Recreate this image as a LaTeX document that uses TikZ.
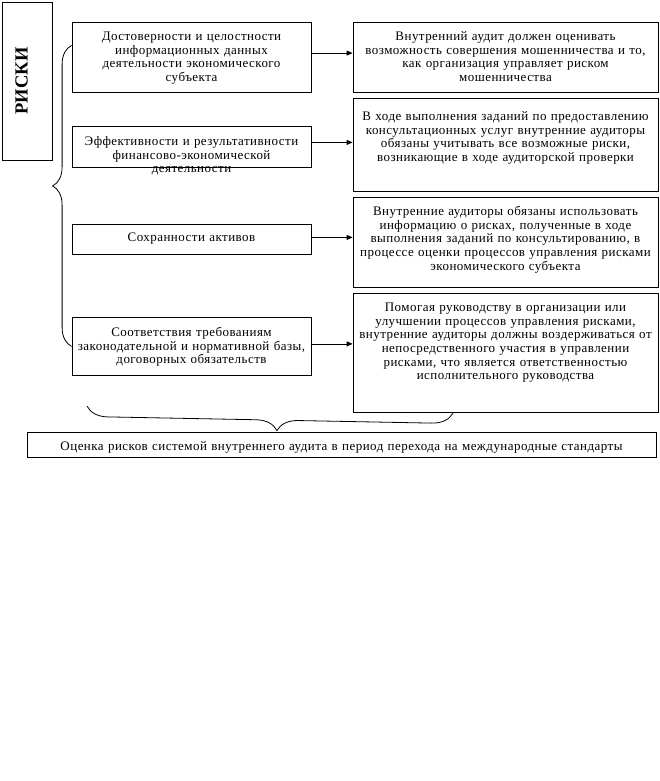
\documentclass[tikz,border=0pt]{standalone}
\usepackage{fontspec}
\setmainfont{Liberation Serif}
\usetikzlibrary{arrows.meta, positioning, decorations.pathreplacing}

\newcommand{\boxfont}{\fontsize{13}{13.7}\selectfont\addfontfeatures{LetterSpace=3.5}}

\begin{document}
\begin{tikzpicture}[
    x=1pt, y=-1pt,
    >={Triangle[length=6pt,width=5pt]},
    textbox/.style={draw, line width=0.8pt, align=center, anchor=north,
        inner xsep=2pt, inner ysep=0pt, font=\boxfont},
    leftbox/.style={textbox, text width=235pt},
    rightbox/.style={textbox, text width=301pt},
    conn/.style={->, line width=0.8pt},
    curly/.style={decorate, line width=0.8pt, decoration={brace, amplitude=#1}}
]

\path[fill=white, use as bounding box] (0,0) rectangle (660,781);

% -------- Layout --------
\def\xleft{191.5}
\def\xright{505.5}

% -------- Risks label --------
\node[draw, line width=0.8pt, rotate=90, minimum width=158pt, minimum height=50pt,
    text depth=11pt, font=\fontsize{18.5}{20}\selectfont\bfseries] (risks) at (27,81) {РИСКИ};

% -------- Left column --------
\node[leftbox, text height=18pt, text depth=52pt] (l1) at (\xleft,22)
    {Достоверности и целостности\\информационных данных\\деятельности экономического\\субъекта};
\node[leftbox, text height=19pt, text depth=22pt] (l2) at (\xleft,126)
    {Эффективности и результативности\\финансово-экономической\\деятельности};
\node[leftbox, text height=17pt, text depth=13pt] (l3) at (\xleft,224)
    {Сохранности активов};
\node[leftbox, text height=19pt, text depth=39pt] (l4) at (\xleft,317)
    {Соответствия требованиям\\законодательной и нормативной базы,\\договорных обязательств};

% -------- Right column --------
\node[rightbox, text height=18pt, text depth=52pt] (r1) at (\xright,22)
    {Внутренний аудит должен оценивать\\возможность совершения мошенничества и то,\\как организация управляет риском\\мошенничества};
\node[rightbox, text height=22pt, text depth=71pt] (r2) at (\xright,98)
    {В ходе выполнения заданий по предоставлению\\консультационных услуг внутренние аудиторы\\обязаны учитывать все возможные риски,\\возникающие в ходе аудиторской проверки};
\node[rightbox, text height=18pt, text depth=72pt] (r3) at (\xright,197)
    {Внутренние аудиторы обязаны использовать\\информацию о рисках, полученные в ходе\\выполнения заданий по консультированию, в\\процессе оценки процессов управления рисками\\экономического субъекта};
\node[rightbox, text height=18pt, text depth=101pt] (r4) at (\xright,293)
    {Помогая руководству в организации или\\улучшении процессов управления рисками,\\внутренние аудиторы должны воздерживаться от\\непосредственного участия в управлении\\рисками, что является ответственностью\\исполнительного руководства};

% -------- Summary --------
\node[textbox, text width=625pt, text height=18pt, text depth=7pt] (sum) at (341.5,432)
    {Оценка рисков системой внутреннего аудита в период перехода на международные стандарты};

% -------- Arrows --------
\foreach \i/\dy in {1/4.3, 2/4.5, 3/2, 4/2.5} {
    \coordinate (a\i) at ([yshift=\dy pt]l\i.east);
    \draw[conn] (a\i) -- (a\i -| r\i.west);
}

% -------- Braces --------
\draw[curly=19pt, decoration={aspect=0.533}] (l4.west) -- ([yshift=12pt]l1.west);
\draw[curly=21pt, decoration={aspect=0.48}] (453,413) -- (87,406);

\end{tikzpicture}
\end{document}
